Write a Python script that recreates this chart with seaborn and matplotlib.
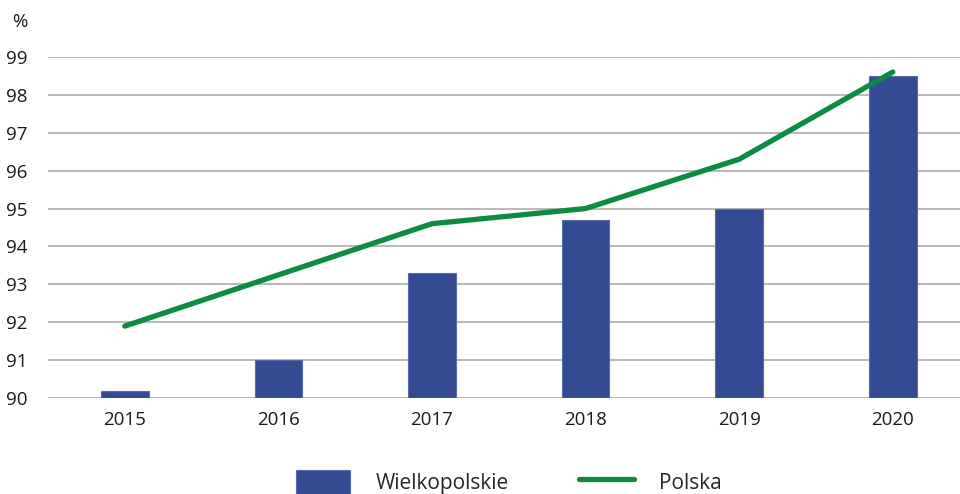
import matplotlib
matplotlib.use("Agg")
import matplotlib.pyplot as plt
import seaborn as sns
import pandas as pd

years = ["2015", "2016", "2017", "2018", "2019", "2020"]
wielkopolskie = [90.2, 91.0, 93.3, 94.7, 95.0, 98.5]
polska = [91.9, 93.25, 94.6, 95.0, 96.3, 98.6]
yticks = list(range(90, 100))

bar_color = "#344a93"
line_color = "#0d8a44"

sns.set_theme(style="white")
plt.rcParams["font.family"] = ["Open Sans", "DejaVu Sans"]

df = pd.DataFrame({"rok": years, "Wielkopolskie": wielkopolskie, "Polska": polska})

fig = plt.figure(figsize=(9.6, 4.94), dpi=100)
ax = fig.add_axes([0.05, 0.194, 0.96, 0.691])

sns.barplot(data=df, x="rok", y="Wielkopolskie", color=bar_color, width=0.31,
            saturation=1, ax=ax, label="Wielkopolskie", zorder=2,
            edgecolor="#5a6bab", linewidth=0.8)
sns.pointplot(data=df, x="rok", y="Polska", color=line_color, markers="",
              linewidth=3.8, errorbar=None, ax=ax, label="Polska", zorder=3)
for l in ax.lines:
    l.set_solid_capstyle("round")
    l.set_solid_joinstyle("round")

ax.set_ylim(90, 99)
ax.set_xlim(-0.5, 5.5)
ax.set_yticks(yticks)
ax.set_yticklabels([str(t) for t in yticks])
ax.set_xlabel("")
ax.set_ylabel("")
ax.grid(axis="y", color="#b3b3b3", linewidth=1.3, zorder=0)
ax.set_axisbelow(True)
for s in ax.spines.values():
    s.set_visible(False)
ax.tick_params(axis="both", length=0, labelsize=13.5, colors="#1a1a1a")
ax.tick_params(axis="y", pad=15)
ax.tick_params(axis="x", pad=9)
for lab in ax.get_yticklabels():
    lab.set_horizontalalignment("right")

fig.text(0.013, 0.955, "%", fontsize=13.5, color="#1a1a1a", ha="left", va="center")

handles, labels = ax.get_legend_handles_labels()
if ax.get_legend() is not None:
    ax.get_legend().remove()
order = [labels.index("Wielkopolskie"), labels.index("Polska")]
handles = [handles[i] for i in order]
labels = [labels[i] for i in order]
fig.legend(handles, labels, loc="center", bbox_to_anchor=(0.530, 0.025),
           ncol=2, frameon=False, fontsize=15, handlelength=2.6, handleheight=1.4,
           handletextpad=1.2, columnspacing=3.4)

fig.savefig("out.png", dpi=100)
